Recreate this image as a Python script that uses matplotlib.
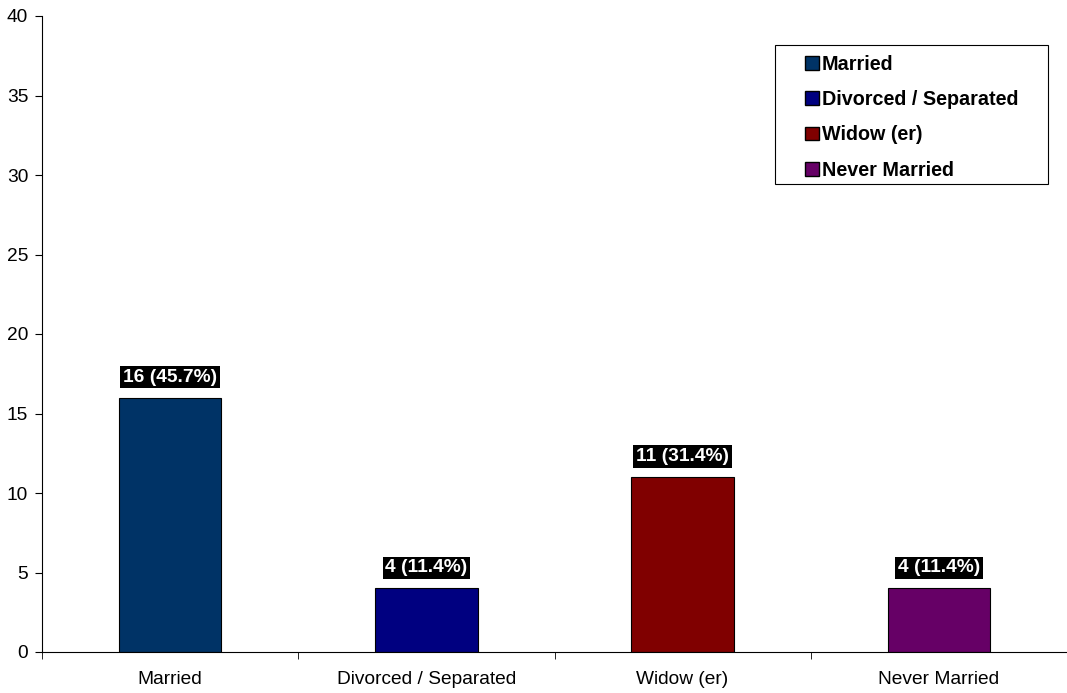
import numpy as np
import matplotlib.pyplot as plt
from matplotlib.patches import Patch, Rectangle

plt.rcParams['font.family'] = ['Liberation Sans', 'DejaVu Sans']

categories = ['Married', 'Divorced / Separated', 'Widow (er)', 'Never Married']
counts = [16, 4, 11, 4]
percents = [45.7, 11.4, 31.4, 11.4]
colors = ['#003366', '#000080', '#800000', '#660066']

W, H = 1067, 693
fig = plt.figure(figsize=(W / 100, H / 100), dpi=100)
ax = fig.add_axes([42 / W, 1 - 652 / H, 1 - 42 / W, (652 - 16) / H])

x = np.arange(len(categories))
ax.bar(x, counts, width=0.4, color=colors, edgecolor='black', linewidth=0.8)

for xi, c, p in zip(x, counts, percents):
    ax.text(xi, c + 0.75, f'{c} ({p}%)', ha='center', va='bottom', color='white',
            fontsize=13.8, fontweight='bold',
            bbox=dict(facecolor='black', edgecolor='none', pad=2))

ax.set_xlim(-0.5, len(categories) - 0.5)
ax.set_ylim(0, 40)
ax.set_yticks(np.arange(0, 41, 5))
ax.set_xticks(x)
ax.set_xticklabels(categories, fontsize=13.8)
ax.set_xticks(np.arange(-0.5, len(categories), 1), minor=True)
ax.tick_params(axis='x', which='major', length=0, pad=14)
ax.tick_params(axis='x', which='minor', length=5, direction='out')
ax.tick_params(axis='y', labelsize=13.8, length=5, direction='out', pad=5)

for s in ['top', 'right']:
    ax.spines[s].set_visible(False)

# legend box drawn separately so padding matches the original
fig.patches.append(Rectangle((775 / W, 1 - 184 / H), (1048 - 775) / W, (184 - 45) / H,
                             transform=fig.transFigure, facecolor='white',
                             edgecolor='black', linewidth=0.8, zorder=3))

handles = [Patch(facecolor=col, edgecolor='black', label=cat) for col, cat in zip(colors, categories)]
leg = fig.legend(handles=handles, loc='upper left', bbox_to_anchor=(805 / W, 1 - 55 / H),
                 frameon=False, prop={'weight': 'bold', 'size': 14.2},
                 handlelength=0.7, handleheight=0.7, handletextpad=0.15,
                 labelspacing=0.82, borderpad=0, borderaxespad=0)
leg.set_zorder(4)

fig.savefig('out.png', dpi=100)
